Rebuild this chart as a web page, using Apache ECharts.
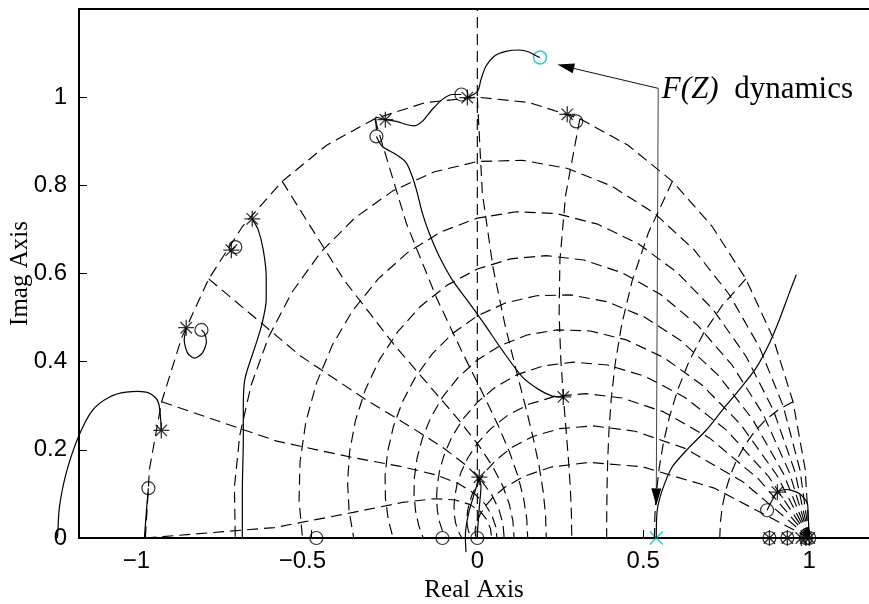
<!DOCTYPE html>
<html>
<head>
<meta charset="utf-8">
<script src="https://cdn.jsdelivr.net/npm/echarts@6/dist/echarts.min.js"></script>
<style>
  html, body { margin: 0; padding: 0; background: #fff; }
  #chart { width: 869px; height: 604px; }
</style>
</head>
<body>
<div id="chart"></div>
<script>
// ---- axis ticks ----
const xTicks = [-1, -0.5, 0, 0.5, 1];
const yTicks = [0, 0.2, 0.4, 0.6, 0.8, 1];

// ---- z-plane grid parameters (damping ratio, natural frequency in units of pi/T) ----
const dampingRatios = [0, 0.1, 0.2, 0.3, 0.4, 0.5, 0.6, 0.7, 0.8, 0.9];
const naturalFreqs = [0.1, 0.2, 0.3, 0.4, 0.5, 0.6, 0.7, 0.8, 0.9, 1.0];

// ---- root locus branches ----
// this branch leaves the left edge of the axes, so it is drawn unclipped
const branchA = [[-0.952, 0.244], [-0.958, 0.298], [-0.968, 0.317], [-0.998, 0.331], [-1.058, 0.331],
  [-1.108, 0.320], [-1.159, 0.290], [-1.202, 0.229], [-1.239, 0.146], [-1.259, 0.070], [-1.264, 0.011], [-1.265, 0]];
const branchB = [[-0.991, 0.113], [-0.996, 0.070], [-1.003, 0]];
const branchC = [[-0.877, 0.477], [-0.883, 0.449], [-0.873, 0.420], [-0.852, 0.408], [-0.828, 0.420],
  [-0.816, 0.445], [-0.822, 0.465], [-0.831, 0.472]];
const branchD = [[-0.741, 0.653], [-0.729, 0.660]];
const branchE = [[-0.678, 0.724], [-0.660, 0.699], [-0.645, 0.654], [-0.636, 0.592], [-0.636, 0.540],
  [-0.648, 0.488], [-0.666, 0.442], [-0.693, 0.381], [-0.702, 0.352], [-0.705, 0.297], [-0.705, 0.222],
  [-0.708, 0.108], [-0.708, 0]];
const branchF = [[-0.277, 0.949], [-0.244, 0.945], [-0.214, 0.938], [-0.190, 0.935], [-0.166, 0.945],
  [-0.136, 0.972], [-0.105, 0.995], [-0.075, 1.006], [-0.048, 1.006]];
const branchG = [[-0.030, 0.999], [0.001, 1.013], [0.011, 1.040], [0.026, 1.070], [0.051, 1.093],
  [0.086, 1.104], [0.127, 1.107], [0.157, 1.102], [0.177, 1.094], [0.189, 1.090]];
const branchH = [[-0.304, 0.911], [-0.286, 0.888], [-0.245, 0.870], [-0.215, 0.852], [-0.196, 0.820],
  [-0.181, 0.783], [-0.166, 0.738], [-0.145, 0.692], [-0.114, 0.638], [-0.075, 0.585], [-0.024, 0.533],
  [0.026, 0.480], [0.075, 0.426], [0.136, 0.365], [0.187, 0.336], [0.226, 0.322], [0.259, 0.320]];
const branchK = [[-0.277, 0.949], [-0.306, 0.955], [-0.304, 0.925]];
const branchL = [[0.006, 0.138], [-0.009, 0.101], [-0.024, 0.063], [-0.034, 0.025], [-0.036, 0.002], [-0.034, -0.032]];
const branchM = [[0.006, 0.138], [0.011, 0.116], [0.006, 0.070], [0.001, 0.018], [0, 0]];
const branchN = [[0.539, 0], [0.542, 0.063], [0.557, 0.108], [0.587, 0.161], [0.639, 0.206], [0.690, 0.245],
  [0.738, 0.290], [0.789, 0.336], [0.840, 0.386], [0.880, 0.442], [0.910, 0.495], [0.940, 0.556], [0.961, 0.597]];
const branchP = [[0.873, 0.063], [0.904, 0.104], [0.931, 0.110], [0.970, 0.101], [0.994, 0.079], [0.997, 0.047], [1.0, 0]];

const branches = [branchB, branchC, branchD, branchE, branchF, branchG, branchH,
  branchK, branchL, branchM, branchN, branchP];

// ---- open-loop poles (*) and zeros (o) ----
const poles = [[-0.952, 0.244], [-0.877, 0.477], [-0.741, 0.653], [-0.678, 0.724], [-0.277, 0.949],
  [-0.030, 0.999], [0.271, 0.961], [0.259, 0.320], [0.006, 0.138], [0.904, 0.104],
  [0.880, 0], [0.934, 0], [0.976, 0], [0.990, 0], [1.0, 0]];
const zeros = [[-0.991, 0.113], [-0.831, 0.472], [-0.729, 0.660], [-0.304, 0.911], [-0.048, 1.006],
  [0.298, 0.945], [0.873, 0.063], [-0.485, 0], [-0.105, 0], [0, 0],
  [0.880, 0], [0.934, 0], [0.990, 0], [1.0, 0]];

// F(Z) dynamics: pole and zero
const fPoles = [[0.539, 0]];
const fZeros = [[0.189, 1.090]];

// annotation anchors (data coordinates)
const noteCorner = [0.545, 1.020];
const noteTipZero = [0.241, 1.074];
const notePoleTip = [0.539, 0.074];
const noteTextPos = [0.556, 1.016];

// ---- grid curve builders ----
function dampingCurve(zeta) {
  const m = Math.tan(Math.asin(zeta));
  const pts = [];
  for (let k = 0; k <= 20; k++) {
    const th = k * Math.PI / 20;
    const r = Math.exp(-m * th);
    pts.push([r * Math.cos(th), r * Math.sin(th)]);
  }
  return pts;
}
function frequencyCurve(wn) {
  const w = wn * Math.PI;
  const pts = [];
  for (let k = 0; k <= 10; k++) {
    const phi = Math.PI / 2 + k * Math.PI / 20;
    const r = Math.exp(w * Math.cos(phi));
    const a = w * Math.sin(phi);
    pts.push([r * Math.cos(a), r * Math.sin(a)]);
  }
  return pts;
}

const DASH = [11, 6];
const gridCurves = [];
dampingRatios.forEach(z => gridCurves.push(dampingCurve(z)));
naturalFreqs.forEach(w => gridCurves.push(frequencyCurve(w)));
gridCurves.push([[0, 0], [0, 1.2]]);

const series = [];
gridCurves.forEach(pts => series.push({
  type: 'line', data: pts, symbol: 'none', silent: true, clip: true,
  lineStyle: { color: '#000', width: 1.15, type: DASH }
}));
branches.forEach(pts => series.push({
  type: 'line', data: pts, symbol: 'none', silent: true, clip: false, smooth: 0.25,
  lineStyle: { color: '#000', width: 1.2 }
}));
// unclipped branch, drawn through the axes' own coordinate mapping
series.push({
  type: 'custom', clip: false, silent: true, data: [[branchA[0][0], branchA[0][1]]],
  renderItem: (params, api) => ({
    type: 'polyline',
    shape: { points: branchA.map(p => api.coord(p)), smooth: 0.3 },
    style: { stroke: '#000', fill: 'none', lineWidth: 1.2 }
  })
});

const STAR = 'path://M7,0L7,14M0,7L14,7M2,2L12,12M12,2L2,12';
const CROSS = 'path://M0,0L12,12M12,0L0,12';
series.push({
  type: 'scatter', data: poles, symbol: STAR, symbolSize: 16, clip: false, silent: true,
  itemStyle: { color: 'none', borderColor: '#000', borderWidth: 1.3 }
});
series.push({
  type: 'scatter', data: zeros, symbol: 'circle', symbolSize: 13, clip: false, silent: true,
  itemStyle: { color: 'none', borderColor: '#000', borderWidth: 1.2 }
});
series.push({
  type: 'scatter', data: fZeros, symbol: 'circle', symbolSize: 13, clip: false, silent: true,
  itemStyle: { color: 'none', borderColor: '#00c0c0', borderWidth: 1.6 }
});
series.push({
  type: 'scatter', data: fPoles, symbol: CROSS, symbolSize: 13, clip: false, silent: true,
  itemStyle: { color: 'none', borderColor: '#00c0c0', borderWidth: 1.6 }
});

const chart = echarts.init(document.getElementById('chart'), null, { renderer: 'canvas' });

const tickFmt = v => {
  if (Math.abs(v) < 1e-9) return '0';
  const s = String(Math.round(Math.abs(v) * 10) / 10);
  return v < 0 ? '{neg|\u2212' + s + '}' : s;
};

chart.setOption({
  animation: false,
  backgroundColor: '#fff',
  grid: { left: 79, top: 9, right: 0, bottom: 66, show: false, containLabel: false, outerBoundsMode: 'none' },
  xAxis: [{
    type: 'value', min: -1.2, max: 1.18,
    name: 'Real Axis', nameLocation: 'middle', nameGap: 35,
    nameTextStyle: { fontFamily: 'Liberation Serif', fontSize: 25, color: '#000' },
    axisLine: { show: true, onZero: false, lineStyle: { color: '#000', width: 2 } },
    axisTick: { show: true, inside: true, length: 8, customValues: xTicks, lineStyle: { color: '#000', width: 1 } },
    axisLabel: {
      customValues: xTicks, formatter: tickFmt, margin: 11,
      fontFamily: 'Liberation Sans', fontSize: 24, color: '#000',
      rich: { neg: { fontFamily: 'Liberation Sans', fontSize: 24, color: '#000', padding: [0, 18, 0, 0] } }
    },
    splitLine: { show: false }
  }, {
    // top edge of the axes box
    type: 'value', position: 'top', min: -1.2, max: 1.18,
    axisLine: { show: true, onZero: false, lineStyle: { color: '#000', width: 2 } },
    axisTick: { show: false }, axisLabel: { show: false }, splitLine: { show: false }
  }],
  yAxis: {
    type: 'value', min: 0, max: 1.2, position: 'left',
    name: 'Imag Axis', nameLocation: 'middle', nameGap: 46, nameMoveOverlap: false,
    nameTextStyle: { fontFamily: 'Liberation Serif', fontSize: 25, color: '#000' },
    axisLine: { show: true, onZero: false, lineStyle: { color: '#000', width: 2 } },
    axisTick: { show: true, inside: true, length: 8, customValues: yTicks, lineStyle: { color: '#000', width: 1 } },
    axisLabel: {
      customValues: yTicks, formatter: tickFmt, margin: 12,
      fontFamily: 'Liberation Sans', fontSize: 24, color: '#000'
    },
    splitLine: { show: false }
  },
  series: series
});

// ---- annotation: "F(Z) dynamics" with arrows to its zero and pole ----
function toPx(p) { return chart.convertToPixel({ xAxisIndex: 0, yAxisIndex: 0 }, p); }
function arrowParts(fromPx, tipPx, color) {
  const dx = tipPx[0] - fromPx[0], dy = tipPx[1] - fromPx[1];
  const L = Math.hypot(dx, dy), ux = dx / L, uy = dy / L;
  const bx = tipPx[0] - ux * 17, by = tipPx[1] - uy * 17;
  const nx = -uy, ny = ux;
  return [
    { type: 'line', silent: true, shape: { x1: fromPx[0], y1: fromPx[1], x2: bx, y2: by },
      style: { stroke: color, lineWidth: 1 } },
    { type: 'polygon', silent: true,
      shape: { points: [[tipPx[0], tipPx[1]], [bx + nx * 5, by + ny * 5], [bx - nx * 5, by - ny * 5]] },
      style: { fill: '#000' } }
  ];
}
const corner = toPx(noteCorner);
const textAt = toPx(noteTextPos);
chart.setOption({
  graphic: [
    ...arrowParts(corner, toPx(noteTipZero), '#111'),
    ...arrowParts(corner, toPx(notePoleTip), '#444'),
    {
      type: 'text', silent: true, x: textAt[0], y: textAt[1],
      style: {
        text: '{i|F(Z)}  dynamics',
        font: '31px "Liberation Serif"', fill: '#000', verticalAlign: 'middle', align: 'left',
        rich: { i: { fontStyle: 'italic', fontFamily: 'Liberation Serif', fontSize: 31, fill: '#000' } }
      }
    }
  ]
});
</script>
</body>
</html>
